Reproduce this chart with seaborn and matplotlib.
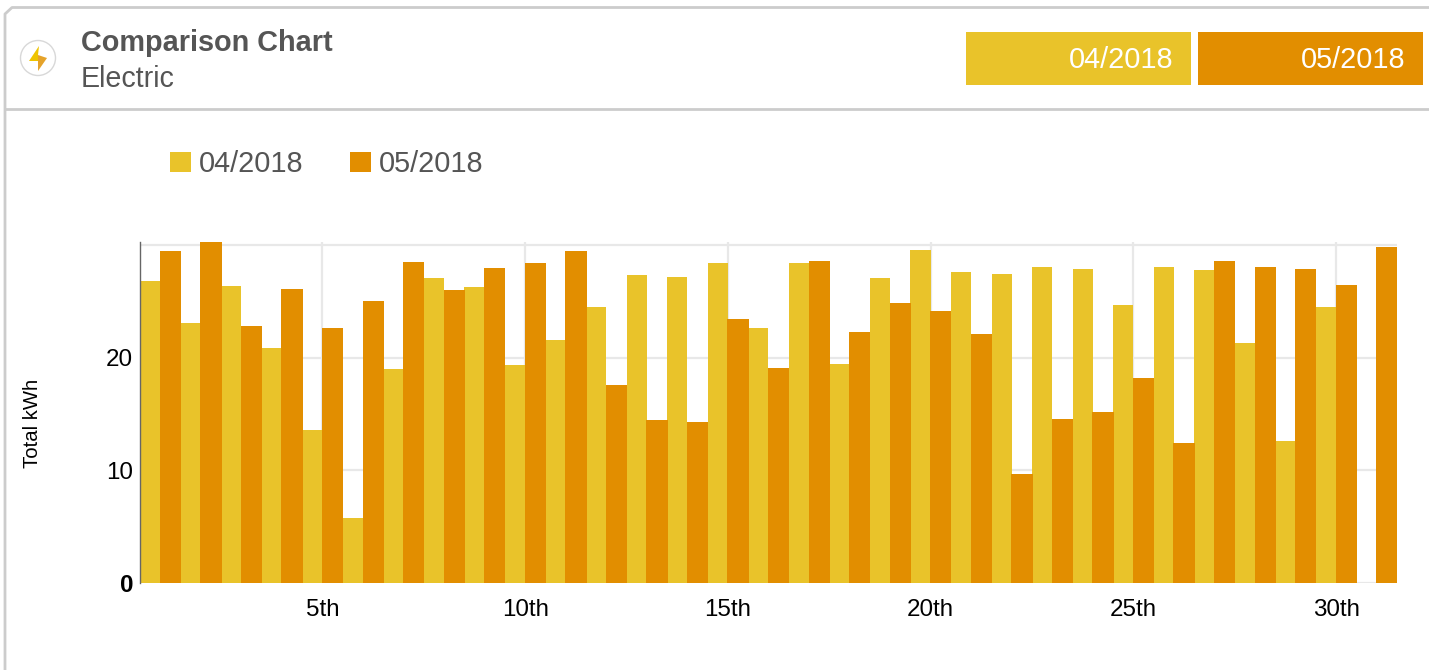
import numpy as np
import pandas as pd
import matplotlib
matplotlib.use("Agg")
import matplotlib.pyplot as plt
from matplotlib.colors import to_rgba
from matplotlib.patches import Rectangle, Circle, Polygon
from matplotlib.ticker import FixedLocator, FixedFormatter
import seaborn as sns

days = list(range(1, 32))
april = [26.8, 23.1, 26.4, 20.9, 13.6, 5.8, 19.0, 27.1, 26.3, 19.4, 21.6, 24.5, 27.4, 27.2, 28.4,
         22.7, 28.4, 19.5, 27.1, 29.6, 27.6, 27.5, 28.1, 27.9, 24.7, 28.1, 27.8, 21.3, 12.6, 24.5, np.nan]
may = [29.5, 30.3, 22.8, 26.1, 22.7, 25.1, 28.5, 26.0, 28.0, 28.4, 29.5, 17.6, 14.5, 14.3, 23.5,
       19.1, 28.6, 22.3, 24.9, 24.2, 22.1, 9.7, 14.6, 15.2, 18.2, 12.4, 28.6, 28.1, 27.9, 26.5, 29.9]
series_names = ["04/2018", "05/2018"]
series_colors = ["#E9C32A", "#E28E00"]
tick_days = [5, 10, 15, 20, 25, 30]
tick_labels = ["5th", "10th", "15th", "20th", "25th", "30th"]
y_ticks = [0, 10, 20]
title = "Comparison Chart"
subtitle = "Electric"
y_label = "Total kWh"

W, H = 1429, 670
GREY = "#555555"
sns.set_theme(style="white")
plt.rcParams["font.family"] = ["Liberation Sans", "DejaVu Sans"]

fig = plt.figure(figsize=(W / 100, H / 100), dpi=100, facecolor="white")

page = fig.add_axes([0, 0, 1, 1], zorder=0)
page.set_xlim(0, W)
page.set_ylim(H, 0)
page.axis("off")
BORDER = "#CCCCCC"
page.plot([5, 5, 12, W], [H, 14, 7.5, 7.5], color=BORDER, lw=2, solid_joinstyle="round")
page.plot([5, W], [109, 109], color=BORDER, lw=2)
page.add_patch(Circle((38, 58), 17.5, fc="white", ec="#D8D8D8", lw=1))
page.add_patch(Polygon([[39, 46], [29, 61], [38, 61], [38, 55]], fc="#EFC400", ec="none"))
page.add_patch(Polygon([[38, 55], [38, 71], [47, 58]], fc="#E5A32A", ec="none"))
page.text(81, 43, title, fontsize=20.75, fontweight="bold", color=GREY, va="center", ha="left")
page.text(81, 79, subtitle, fontsize=20.6, color=GREY, va="center", ha="left")
for x0, name, col in zip([966, 1198], series_names, series_colors):
    page.add_patch(Rectangle((x0, 32), 225, 53, fc=col, ec="none"))
    page.text(x0 + 207, 60, name, fontsize=20.8, color="white", va="center", ha="right")

left, right, top, bottom = 140, 1397, 242, 583
ax = fig.add_axes([left / W, 1 - bottom / H, (right - left) / W, (bottom - top) / H], zorder=1)
ax.patch.set_alpha(0)

df = pd.DataFrame({"day": days * 2,
                   "kwh": april + may,
                   "month": [series_names[0]] * 31 + [series_names[1]] * 31})
sns.barplot(data=df, x="day", y="kwh", hue="month", hue_order=series_names,
            palette=series_colors, saturation=1, width=1, gap=0, dodge=True,
            linewidth=0, ax=ax, zorder=3, legend=True)
orange = to_rgba(series_colors[1])
for bar in ax.patches:
    bar.set_antialiased(False)
    if bar.get_facecolor() == orange:
        bar.set_x(bar.get_x() - 0.012)
        bar.set_width(bar.get_width() + 0.024)

ax.set_xlim(-0.5, 30.5)
ax.set_ylim(0, 30.31)
positions = [days.index(d) for d in tick_days]
ax.xaxis.set_major_locator(FixedLocator(positions))
ax.xaxis.set_major_formatter(FixedFormatter(tick_labels))
ax.set_yticks([0, 10, 20, 30])
ax.set_yticklabels([str(v) for v in y_ticks] + [""])
ax.tick_params(axis="both", length=0, labelsize=17.4, labelcolor="black")
ax.tick_params(axis="x", pad=11.5)
ax.tick_params(axis="y", pad=5)
ax.get_yticklabels()[0].set_fontweight("bold")
ax.grid(True, color="#E8E8E8", lw=1.6, zorder=0)
ax.set_axisbelow(True)
for s in ["top", "right", "bottom"]:
    ax.spines[s].set_visible(False)
ax.spines["left"].set_color("#666666")
ax.spines["left"].set_linewidth(1.0)
ax.spines["left"].set_zorder(5)
ax.set_xlabel("")
ax.set_ylabel("")
page.text(33, 423, y_label, rotation=90, fontsize=14.6, color="black", va="center", ha="center")

handles, labels = ax.get_legend_handles_labels()
ax.legend(handles, labels, ncol=2, frameon=False, loc="lower left",
          bbox_to_anchor=(170 / W, 1 - 178 / H), bbox_transform=fig.transFigure,
          borderaxespad=0, borderpad=0, fontsize=20.8, labelcolor=GREY,
          handlelength=0.73, handleheight=0.73, handletextpad=0.27, columnspacing=1.6)

fig.savefig("out.png", dpi=100, facecolor="white")
